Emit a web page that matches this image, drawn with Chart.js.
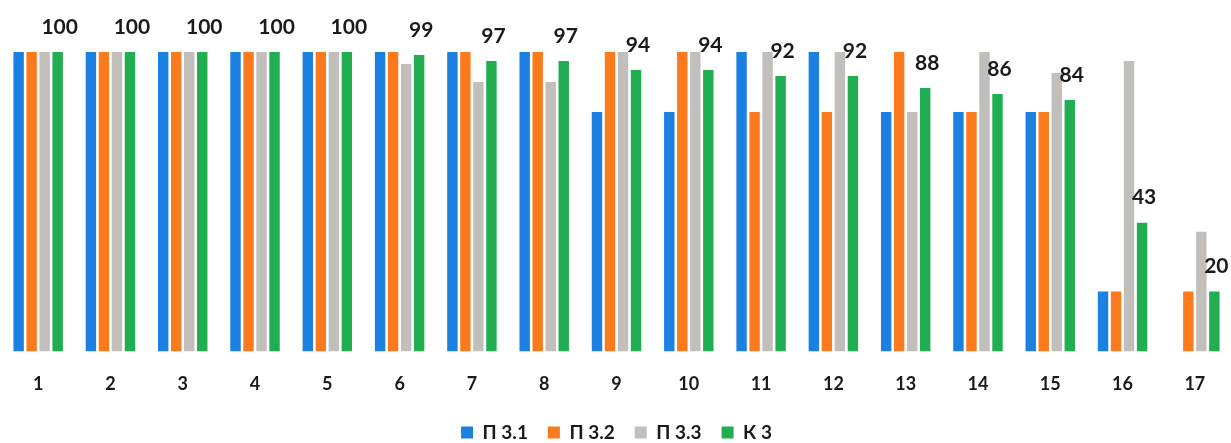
<!DOCTYPE html>
<html>
<head>
<meta charset="utf-8">
<script src="https://cdn.jsdelivr.net/npm/chart.js@4"></script>
<style>
    html, body { margin: 0; padding: 0; background: #fff; }
    #wrap { width: 1231px; height: 443px; position: relative; }
</style>
</head>
<body>
<div id="wrap"><canvas id="barChart"></canvas></div>
<script>
"use strict";
// Data
var categories = ["1", "2", "3", "4", "5", "6", "7", "8", "9", "10", "11", "12", "13", "14", "15", "16", "17"];
var p31 = [100, 100, 100, 100, 100, 100, 100, 100, 80, 80, 100, 100, 80, 80, 80, 20, null];
var p32 = [100, 100, 100, 100, 100, 100, 100, 100, 100, 100, 80, 80, 100, 80, 80, 20, 20];
var p33 = [100, 100, 100, 100, 100, 96, 90, 90, 100, 100, 100, 100, 80, 100, 93, 97, 40];
var k3 = [100, 100, 100, 100, 100, 99, 97, 97, 94, 94, 92, 92, 88, 86, 84, 43, 20];
var seriesNames = ["П 3.1", "П 3.2", "П 3.3", "К 3"];

var fontFamily = "Lato, 'Open Sans', sans-serif";

// draw the К 3 values above the green bars
var valueLabels = {
    id: "valueLabels",
    afterDatasetsDraw: function (chart) {
        var ctx = chart.ctx;
        var meta = chart.getDatasetMeta(3);
        ctx.save();
        ctx.font = "bold 21px " + fontFamily;
        ctx.fillStyle = "#1a1a1a";
        ctx.textAlign = "center";
        ctx.textBaseline = "middle";
        meta.data.forEach(function (bar, i) {
            ctx.fillText(String(k3[i]), bar.x + 2, bar.y - 25);
        });
        ctx.restore();
    }
};

var BARCHART = document.getElementById("barChart");
var myBarChart = new Chart(BARCHART, {
    type: "bar",
    data: {
        labels: categories,
        datasets: [
            { label: seriesNames[0], data: p31, backgroundColor: "#1b80e0" },
            { label: seriesNames[1], data: p32, backgroundColor: "#fb7a1d" },
            { label: seriesNames[2], data: p33, backgroundColor: "#c2bebc" },
            { label: seriesNames[3], data: k3, backgroundColor: "#21ae50" },
        ],
    },
    options: {
        responsive: true,
        maintainAspectRatio: false,
        animation: false,
        layout: { padding: { top: 52, left: 2, right: 0, bottom: -8 } },
        datasets: {
            bar: { categoryPercentage: 0.72, barPercentage: 0.8 },
        },
        plugins: {
            tooltip: { enabled: false },
            legend: {
                position: "bottom",
                maxHeight: 48,
                labels: {
                    boxWidth: 12,
                    boxHeight: 12,
                    padding: 20,
                    color: "#1a1a1a",
                    font: { family: fontFamily, size: 19, weight: "bold" },
                },
            },
        },
        scales: {
            x: {
                grid: { display: false, drawTicks: false },
                border: { display: false },
                afterFit: function (scale) {
                    scale.height -= 14;
                },
                ticks: {
                    padding: 22,
                    color: "#1a1a1a",
                    font: { family: fontFamily, size: 18, weight: "bold" },
                },
            },
            y: {
                display: false,
                min: 0,
                max: 100,
            },
        },
    },
    plugins: [valueLabels],
});
</script>
</body>
</html>
